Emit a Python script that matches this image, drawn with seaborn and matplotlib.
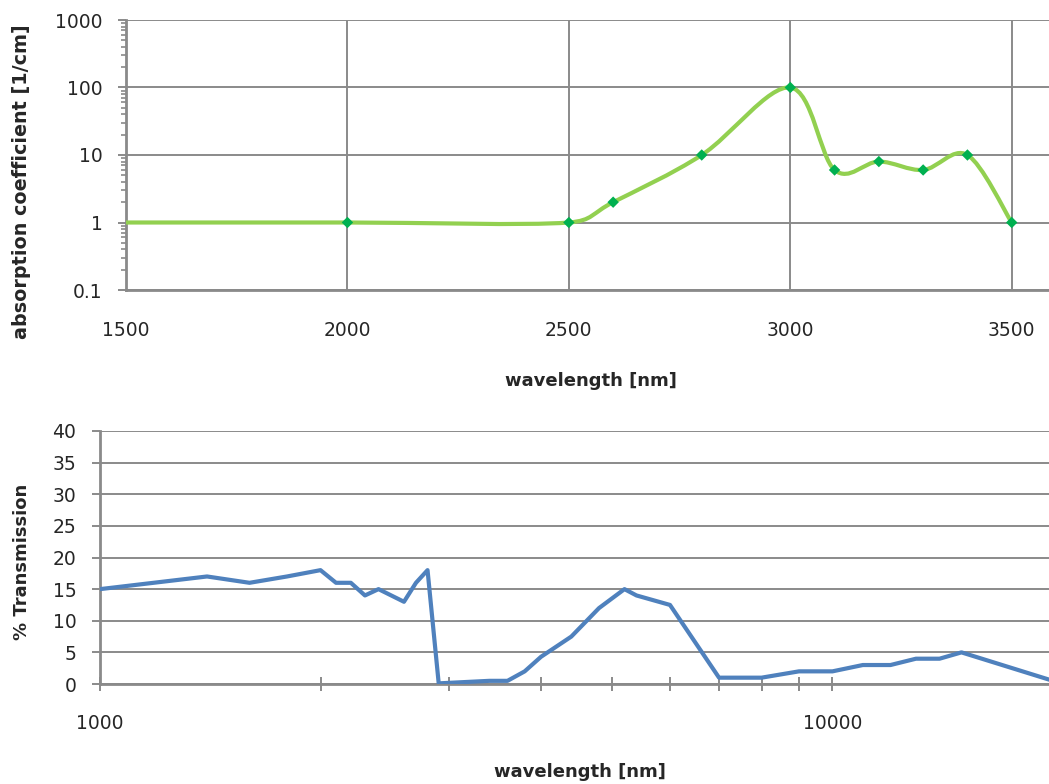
import numpy as np
import pandas as pd
import matplotlib
matplotlib.use("Agg")
import matplotlib.pyplot as plt
import seaborn as sns
from matplotlib.path import Path
from matplotlib.patches import PathPatch
from matplotlib.ticker import FixedLocator, FixedFormatter, NullFormatter, LogLocator

# ---- data ----
abs_wavelength = [1500, 2000, 2500, 2600, 2800, 3000, 3100, 3200, 3300, 3400, 3500]
abs_coeff = [1, 1, 1, 2, 10, 100, 6, 8, 6, 10, 1]

trans_wavelength = [1000, 1400, 1600, 1800, 2000, 2100, 2200, 2300, 2400, 2600, 2700,
                    2800, 2900, 3400, 3600, 3800, 4000, 4400, 4800, 5200, 5400, 6000,
                    7000, 8000, 9000, 10000, 11000, 12000, 13000, 14000, 15000, 20000]
trans_pct = [15, 17, 16, 17, 18, 16, 16, 14, 15, 13, 16,
             18, 0.1, 0.5, 0.5, 2, 4.3, 7.5, 12, 15, 14, 12.5,
             1, 1, 2, 2, 3, 3, 4, 4, 5, 0.5]

top_yticks = [0.1, 1, 10, 100, 1000]
top_ylabels = ["0.1", "1", "10", "100", "1000"]
top_xticks = [1500, 2000, 2500, 3000, 3500]
bot_xticks = [1000, 10000]
bot_xlabels = ["1000", "10000"]
bot_yticks = [0, 5, 10, 15, 20, 25, 30, 35, 40]

# ---- style ----
sns.set_style("white")
plt.rcParams["font.family"] = ["DejaVu Sans"]
GRID = "#8a8a8a"
TICKFS = 13.5
LABFS = 13

W, H = 1049, 784
fig = plt.figure(figsize=(W / 100, H / 100), dpi=100)


def px_axes(left, top, width, height):
    return fig.add_axes([left / W, 1 - (top + height) / H, width / W, height / H])


def excel_smooth_path(ax, xs, ys):
    """Excel-style smoothed line: cubic Bezier segments whose control points are
    computed in display space (tension 1/6, arms limited to half the segment)."""
    disp = ax.transData.transform(np.column_stack([xs, ys]).astype(float))
    n = len(disp)
    verts = [disp[0]]
    codes = [Path.MOVETO]
    for i in range(n - 1):
        p0 = disp[max(i - 1, 0)]
        p1 = disp[i]
        p2 = disp[i + 1]
        p3 = disp[min(i + 2, n - 1)]
        d02 = np.hypot(*(p2 - p0))
        d12 = np.hypot(*(p2 - p1))
        d13 = np.hypot(*(p3 - p1))
        f0 = 1 / 6
        f1 = 1 / 6
        if d02 > 0 and d02 / 6 >= d12 / 2:
            f0 = d12 / d02 / 2
        if d13 > 0 and d13 / 6 >= d12 / 2:
            f1 = d12 / d13 / 2
        c1 = p1 + (p2 - p0) * f0
        c2 = p2 - (p3 - p1) * f1
        verts += [c1, c2, p2]
        codes += [Path.CURVE4] * 3
    data_verts = ax.transData.inverted().transform(np.array(verts))
    return Path(data_verts, codes)


# ---------------- top chart ----------------
ax1 = px_axes(126, 20, 930, 270)
ax1.set_xscale("linear")
ax1.set_yscale("log")
ax1.set_xlim(1500, 3600)
ax1.set_ylim(0.1, 1000)

patch = PathPatch(excel_smooth_path(ax1, abs_wavelength, abs_coeff), facecolor="none",
                  edgecolor="#92D050", lw=3.0, zorder=3, capstyle="round",
                  joinstyle="round")
ax1.add_patch(patch)
top_df = pd.DataFrame({"wavelength": abs_wavelength[1:], "coeff": abs_coeff[1:]})
sns.scatterplot(data=top_df, x="wavelength", y="coeff", marker="D", s=34,
                color="#00B050", edgecolor="none", ax=ax1, zorder=4, clip_on=False)
ax1.set_xlim(1500, 3600)
ax1.set_ylim(0.1, 1000)

ax1.xaxis.set_major_locator(FixedLocator(top_xticks))
ax1.xaxis.set_major_formatter(FixedFormatter([str(t) for t in top_xticks]))
ax1.yaxis.set_major_locator(FixedLocator(top_yticks))
ax1.yaxis.set_major_formatter(FixedFormatter(top_ylabels))
ax1.yaxis.set_minor_locator(LogLocator(base=10, subs=np.arange(2, 10), numticks=20))
ax1.yaxis.set_minor_formatter(NullFormatter())
ax1.grid(True, which="major", color=GRID, lw=1.4)
ax1.set_axisbelow(True)
ax1.tick_params(axis="y", which="major", direction="out", length=6, width=1.4,
                color=GRID, labelsize=TICKFS, pad=11, left=True)
ax1.tick_params(axis="y", which="minor", direction="out", length=3.5, width=1.2,
                color=GRID, left=True)
ax1.tick_params(axis="x", which="both", length=0, labelsize=TICKFS, pad=22)
for s in ["top", "right"]:
    ax1.spines[s].set_visible(False)
for s in ["left", "bottom"]:
    ax1.spines[s].set_color(GRID)
    ax1.spines[s].set_linewidth(2)
ax1.set_xlabel("wavelength [nm]", fontsize=LABFS, fontweight="bold")
ax1.set_ylabel("absorption coefficient [1/cm]", fontsize=13.8, fontweight="bold")
ax1.xaxis.set_label_coords((591 - 126) / 930, (290 - 381) / 270)
ax1.yaxis.set_label_coords((22 - 126) / 930, (290 - 182) / 270)
ax1.xaxis.label.set_va("center")
ax1.yaxis.label.set_va("center")
ax1.yaxis.label.set_ha("center")

# ---------------- bottom chart ----------------
ax2 = px_axes(100, 431, 953, 253)
ax2.set_xscale("log")
ax2.set_xlim(1000, 20000)
ax2.set_ylim(0, 40)

bot_df = pd.DataFrame({"wavelength": trans_wavelength, "pct": trans_pct})
sns.lineplot(data=bot_df, x="wavelength", y="pct", color="#4F81BD", lw=3.0,
             estimator=None, sort=False, ax=ax2, zorder=3, clip_on=True)
ax2.set_xlim(1000, 20000)
ax2.set_ylim(0, 40)

ax2.xaxis.set_major_locator(FixedLocator(bot_xticks))
ax2.xaxis.set_major_formatter(FixedFormatter(bot_xlabels))
ax2.xaxis.set_minor_locator(LogLocator(base=10, subs=np.arange(2, 10), numticks=20))
ax2.xaxis.set_minor_formatter(NullFormatter())
ax2.yaxis.set_major_locator(FixedLocator(bot_yticks))
ax2.yaxis.set_major_formatter(FixedFormatter([str(t) for t in bot_yticks]))
ax2.grid(False)
ax2.yaxis.grid(True, color=GRID, lw=1.4)
ax2.set_axisbelow(True)
ax2.tick_params(axis="x", which="both", direction="inout", length=9.5, width=1.4,
                color=GRID, labelsize=TICKFS, pad=17, bottom=True)
ax2.tick_params(axis="y", which="major", direction="out", length=6, width=1.4,
                color=GRID, labelsize=TICKFS, pad=11, left=True)
for s in ["top", "right"]:
    ax2.spines[s].set_visible(False)
for s in ["left", "bottom"]:
    ax2.spines[s].set_color(GRID)
    ax2.spines[s].set_linewidth(2)
ax2.set_xlabel("wavelength [nm]", fontsize=LABFS, fontweight="bold")
ax2.set_ylabel("% Transmission", fontsize=LABFS, fontweight="bold")
ax2.xaxis.set_label_coords((580 - 100) / 953, (684 - 772) / 253)
ax2.yaxis.set_label_coords((22 - 100) / 953, (684 - 562) / 253)
ax2.xaxis.label.set_va("center")
ax2.yaxis.label.set_va("center")
ax2.yaxis.label.set_ha("center")

fig.savefig("out.png", dpi=100)
